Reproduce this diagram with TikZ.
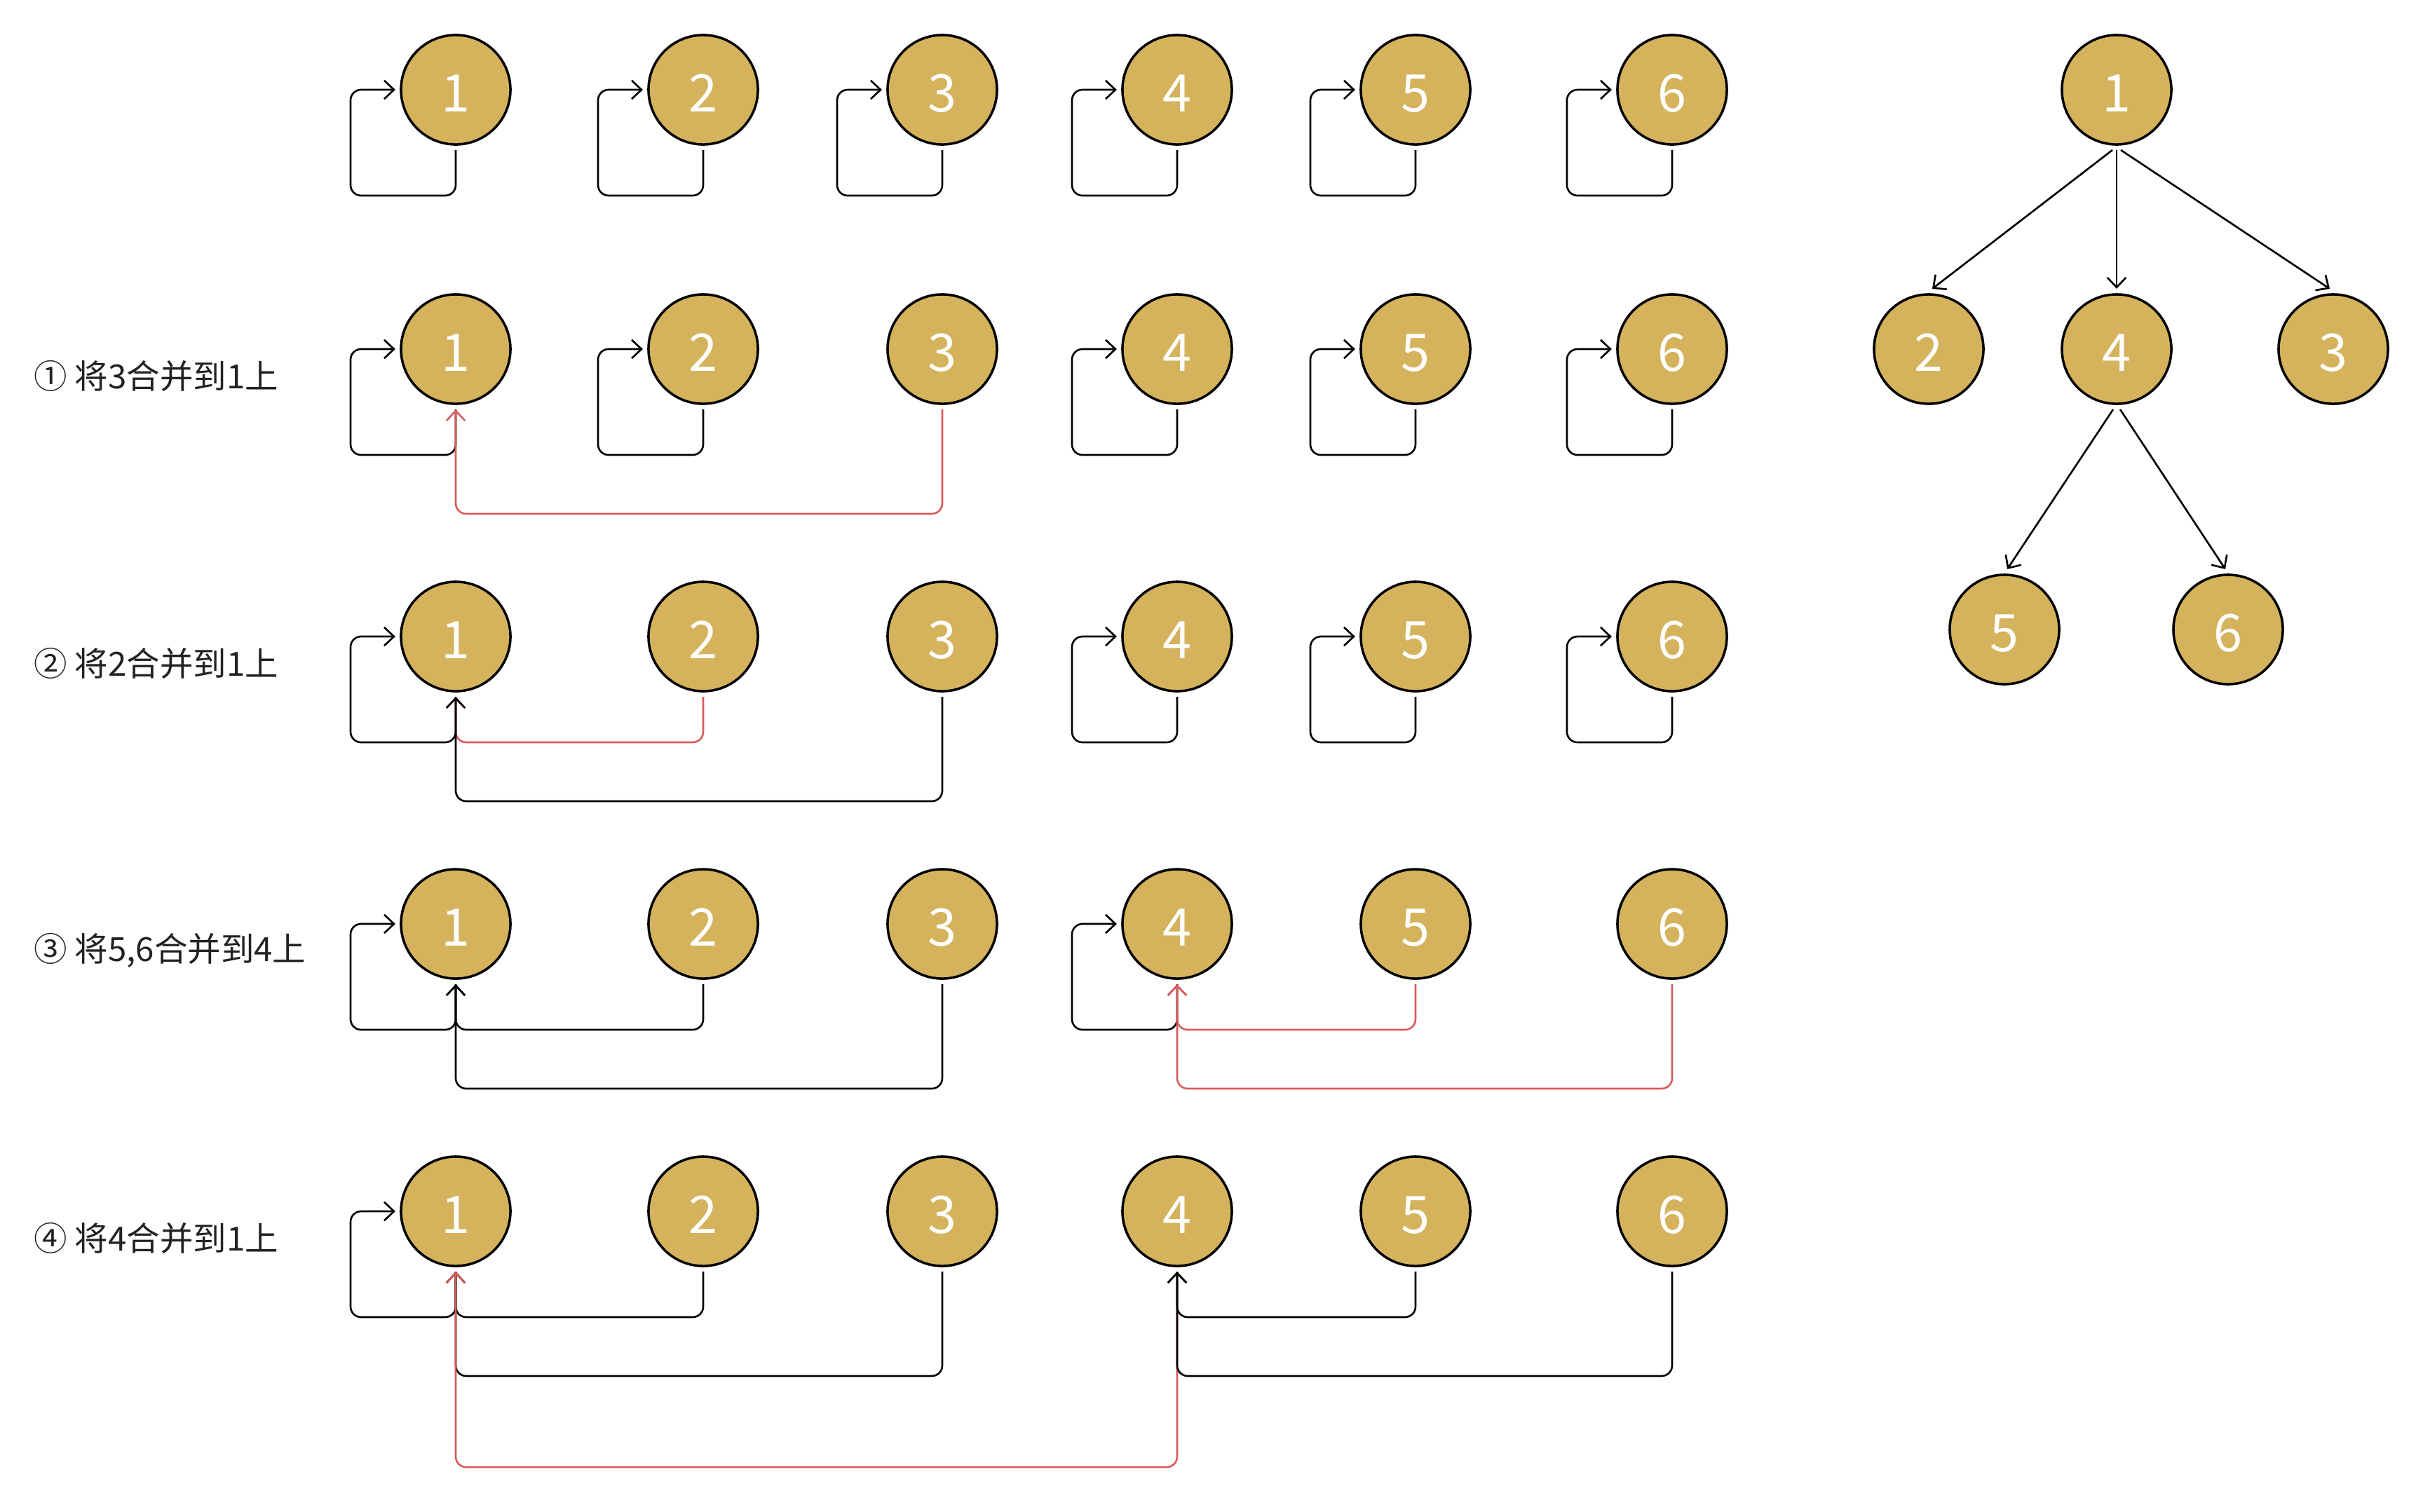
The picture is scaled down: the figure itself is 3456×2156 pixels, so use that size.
\documentclass[tikz,border=0pt]{standalone}
\usepackage{fontspec}
\setmainfont{Noto Sans CJK SC}
\usetikzlibrary{arrows.meta,calc}
\definecolor{gold}{HTML}{D4B35C}
\definecolor{redl}{HTML}{D95B5B}
\definecolor{txt}{HTML}{222222}
\newcommand{\selfloop}[1]{\draw[link] (#1.south) |- ($(#1.center)+(-150,151)$) |- (#1.west);}
\newcommand{\lk}[4][link]{\draw[#1] (#2.south) |- ($(#3.center)+(0,#4)$) -- (#3.south);}
\begin{document}
\begin{tikzpicture}[x=0.01cm,y=-0.01cm,
  uf/.style={circle, draw=black, line width=1pt, fill=gold, minimum size=1.56cm,
    inner sep=0pt, outer sep=0.08cm, text=white, font=\fontsize{21}{21}\selectfont,
    text height=18pt, text depth=0pt},
  link/.style={line width=0.75pt, rounded corners=0.15cm,
    -{Straight Barb[length=4pt,width=7.5pt]}},
  redlink/.style={link, draw=redl},
  tarrow/.style={line width=0.75pt, -{Straight Barb[length=4pt,width=7.5pt]}},
  lbl/.style={anchor=west, text=txt, font=\fontsize{13.5}{14}\selectfont, inner sep=0pt}]
\useasboundingbox (0,0) rectangle (3456,2156);
% nodes
\foreach \r/\y in {1/128,2/498,3/908,4/1318,5/1728}{
  \foreach \c/\x in {1/650,2/1003,3/1344,4/1679,5/2019,6/2385}{
    \node[uf] (n\r-\c) at (\x,\y) {\c};
  }
}
% labels
\node[lbl] (l1) at (48,536) {① 将3合并到1上};
\node[lbl] (l2) at (48,946) {② 将2合并到1上};
\node[lbl] (l3) at (48,1356) {③ 将5,6合并到4上};
\node[lbl] (l4) at (48,1766) {④ 将4合并到1上};
% row 1
\foreach \c in {1,...,6}{\selfloop{n1-\c}}
% row 2
\foreach \c in {1,2,4,5,6}{\selfloop{n2-\c}}
\lk[redlink]{n2-3}{n2-1}{235}
% row 3
\foreach \c in {1,4,5,6}{\selfloop{n3-\c}}
\lk[redlink]{n3-2}{n3-1}{151}
\lk{n3-3}{n3-1}{235}
% row 4
\selfloop{n4-1}
\selfloop{n4-4}
\lk{n4-2}{n4-1}{151}
\lk{n4-3}{n4-1}{235}
\lk[redlink]{n4-5}{n4-4}{151}
\lk[redlink]{n4-6}{n4-4}{235}
% row 5
\selfloop{n5-1}
\lk{n5-2}{n5-1}{151}
\lk{n5-3}{n5-1}{235}
\lk[redlink]{n5-4}{n5-1}{365}
\lk{n5-5}{n5-4}{151}
\lk{n5-6}{n5-4}{235}
% tree
\node[uf] (t1) at (3019,128) {1};
\node[uf] (t2) at (2751,498) {2};
\node[uf] (t4) at (3019,498) {4};
\node[uf] (t3) at (3328,498) {3};
\node[uf] (t5) at (2859,898) {5};
\node[uf] (t6) at (3178,898) {6};
\draw[tarrow] ([xshift=-0.06cm]t1.south) -- ([xshift=0.05cm]t2.north);
\draw[tarrow] (t1.south) -- (t4.north);
\draw[tarrow] ([xshift=0.06cm]t1.south) -- ([xshift=-0.05cm]t3.north);
\draw[tarrow] ([xshift=-0.05cm]t4.south) -- ([xshift=0.04cm]t5.north);
\draw[tarrow] ([xshift=0.05cm]t4.south) -- ([xshift=-0.04cm]t6.north);
\end{tikzpicture}
\end{document}
